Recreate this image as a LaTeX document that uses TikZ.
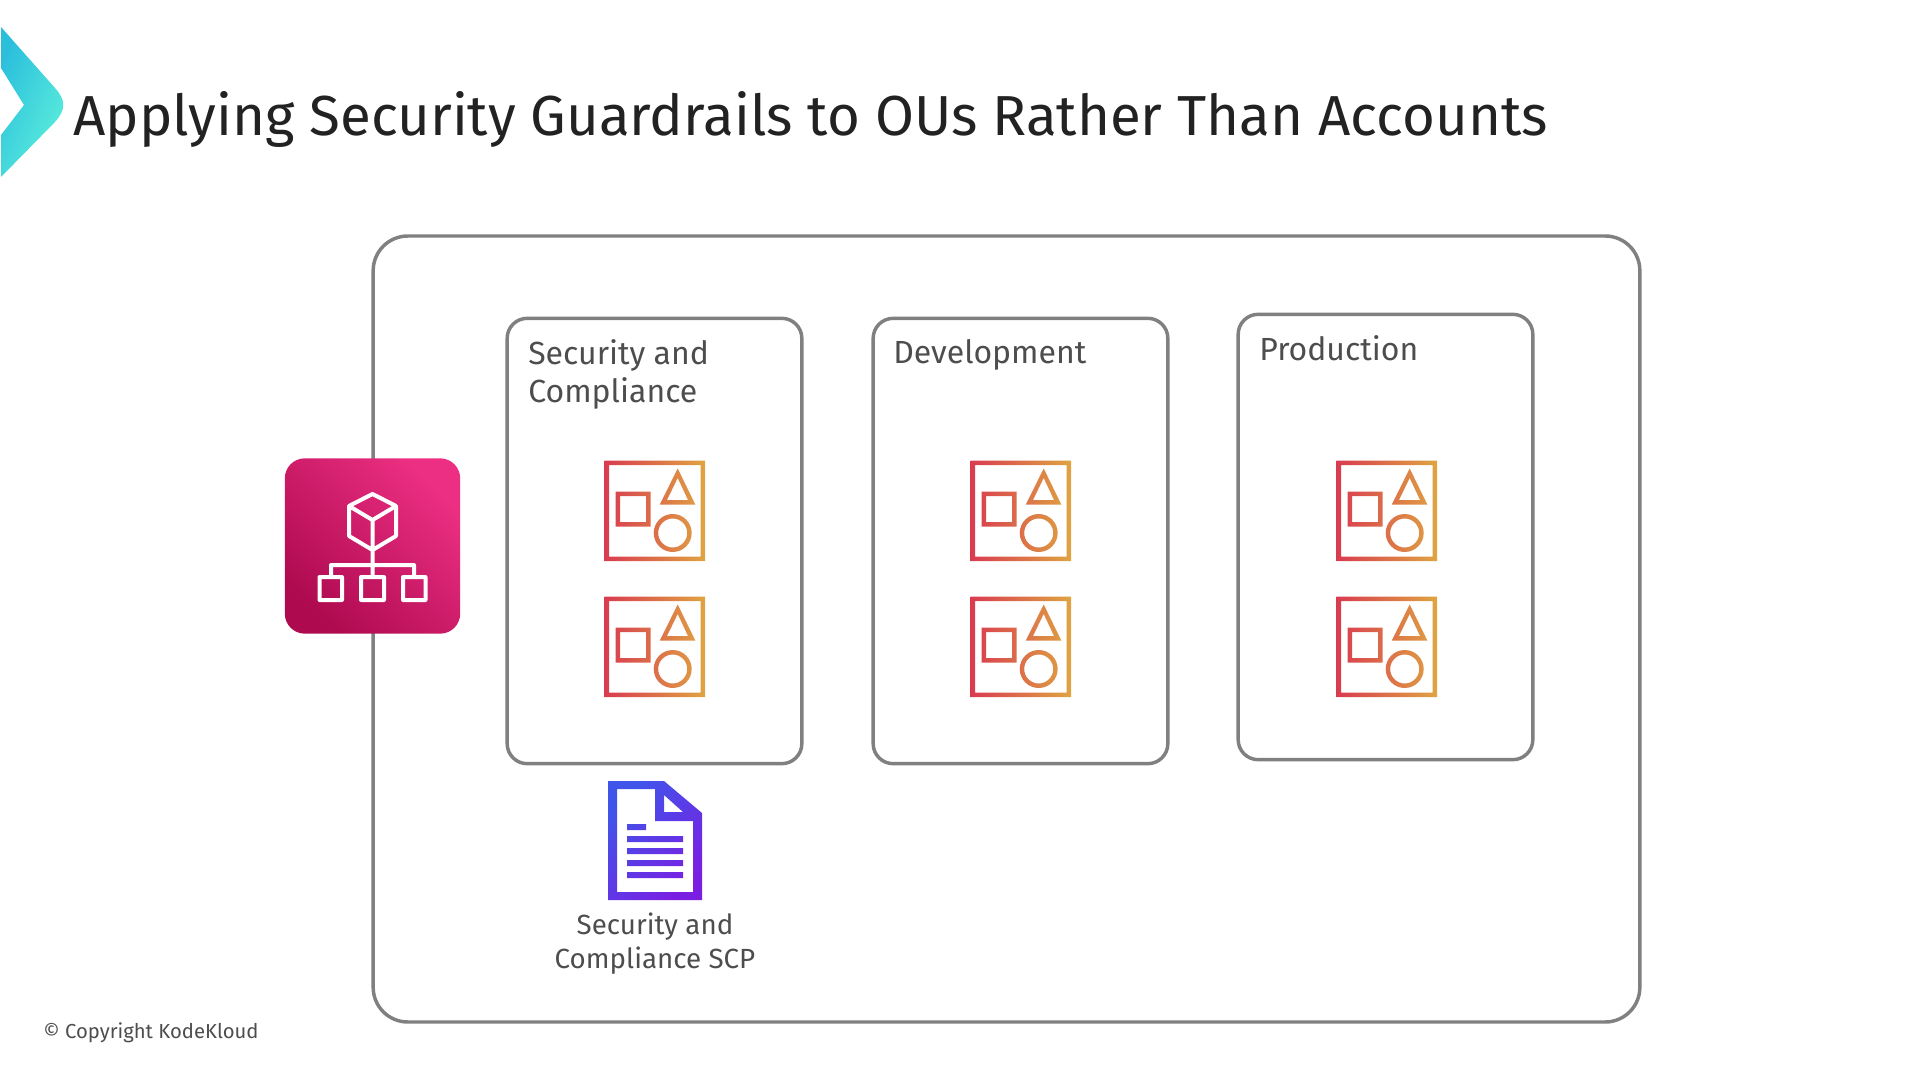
\documentclass[tikz,border=0pt]{standalone}
\usepackage{fontspec}
\setmainfont{Fira Sans}
\definecolor{oubord}{HTML}{808080}
\definecolor{outext}{HTML}{4D4D4D}
\definecolor{titletext}{HTML}{222222}
\definecolor{iconred}{HTML}{D93B50}
\definecolor{iconorange}{HTML}{DFA442}
\definecolor{tiledark}{HTML}{AE0A50}
\definecolor{tilelight}{HTML}{EC2F82}
\definecolor{docblue}{HTML}{3F55EA}
\definecolor{docviolet}{HTML}{7A1FE2}
\definecolor{chevblue}{HTML}{2BBFDC}
\definecolor{chevteal}{HTML}{5DF0DC}
\tikzset{
    oubox/.style={draw=oubord,line width=2.6pt,rounded corners=15,minimum width=221pt,minimum height=334pt,inner sep=0},
    oulabel/.style={anchor=north west,align=left,inner sep=0,text=outext,font=\fontsize{24}{28.5}\selectfont},
    resicon/.pic={
        \shade [even odd rule,left color=iconred,right color=iconorange]
            (-0.5,-0.5) rectangle (100,100) (4,4) rectangle (95.5,95.5)
            (10.5,30.5) rectangle (45.5,65.5) (15,35) rectangle (41,61)
            (72.7,7.5) -- (90.3,43.5) -- (54.8,43.5) -- cycle
            (72.7,17) -- (83,39) -- (62,39) -- cycle
            (67.7,72) circle (19) (67.7,72) circle (14.5);
    }
}
\begin{document}
\begin{tikzpicture}[x=0.75pt,y=-0.75pt]
    \useasboundingbox (0,0) rectangle (1920,1080);

    % Draw the chevron and title
    \shade [left color=chevblue,right color=chevteal,shading angle=65]
        (1,27) -- (55,88) .. controls (66,100) and (66,110) .. (55,122) -- (1,177) --
        (1,135) -- (24,105) -- (1,68) -- cycle;
    \node (title) [anchor=base west,inner sep=0,text=titletext,font=\fontsize{42.3}{50}\selectfont] at (73,136)
        {Applying Security Guardrails to OUs Rather Than Accounts};

    % Draw the root and the OUs
    \node (root) [draw=oubord,line width=2.6pt,rounded corners=26,minimum width=950pt,minimum height=589.5pt,inner sep=0] at (1006.5,629) {};
    \node (secbox) [oubox] at (654.5,541) {};
    \node (devbox) [oubox] at (1020.5,541) {};
    \node (prodbox) [oubox] at (1385.5,537) {};
    \node (seclabel) [oulabel] at (528,339) {Security and\\Compliance};
    \node (devlabel) [oulabel] at (893,339) {Development};
    \node (prodlabel) [oulabel] at (1259,335) {Production};

    % Draw the resources
    \foreach \cx in {605,971,1337}
        \foreach \cy in {461,597}
            \pic at (\cx,\cy) {resicon};

    % Draw the pink organization tile
    \node (org) [left color=tiledark,right color=tilelight,shading angle=135,
        rounded corners=15,minimum width=131.5pt,minimum height=131.5pt,inner sep=0] at (372.5,546) {};
    \draw [white,line width=3pt,line join=round]
        (372.5,494) -- (396,506) -- (396,536) -- (372.5,550) -- (349,536) -- (349,506) -- cycle
        (349,506) -- (372.5,520) -- (396,506) (372.5,520) -- (372.5,550)
        (372.5,550) -- (372.5,577) (331,577) -- (331,565) -- (414,565) -- (414,577)
        (319.5,577) rectangle (342,600) (361,577) rectangle (384,600) (403,577) rectangle (425.5,600);

    % Draw the policy document
    \shade [even odd rule,left color=docblue,right color=docviolet,shading angle=45]
        (608,781) -- (664,781) -- (702,813) -- (702,900) -- (608,900) -- cycle
        (617,789) -- (655,789) -- (655,821) -- (693,821) -- (693,892) -- (617,892) -- cycle
        (664,795) -- (683,812) -- (664,812) -- cycle
        (627,824) rectangle (646,830)
        (627,836) rectangle (683,842)
        (627,848) rectangle (683,854)
        (627,860) rectangle (683,866)
        (627,872) rectangle (683,878);
    \node (scplabel) [anchor=north,align=center,inner sep=0,text=outext,font=\fontsize{20.8}{25}\selectfont] at (655,913)
        {Security and\\Compliance SCP};

    \node (copyright) [anchor=base west,inner sep=0,text=outext,font=\fontsize{15.2}{16}\selectfont] at (43,1038)
        {© Copyright KodeKloud};
\end{tikzpicture}
\end{document}
